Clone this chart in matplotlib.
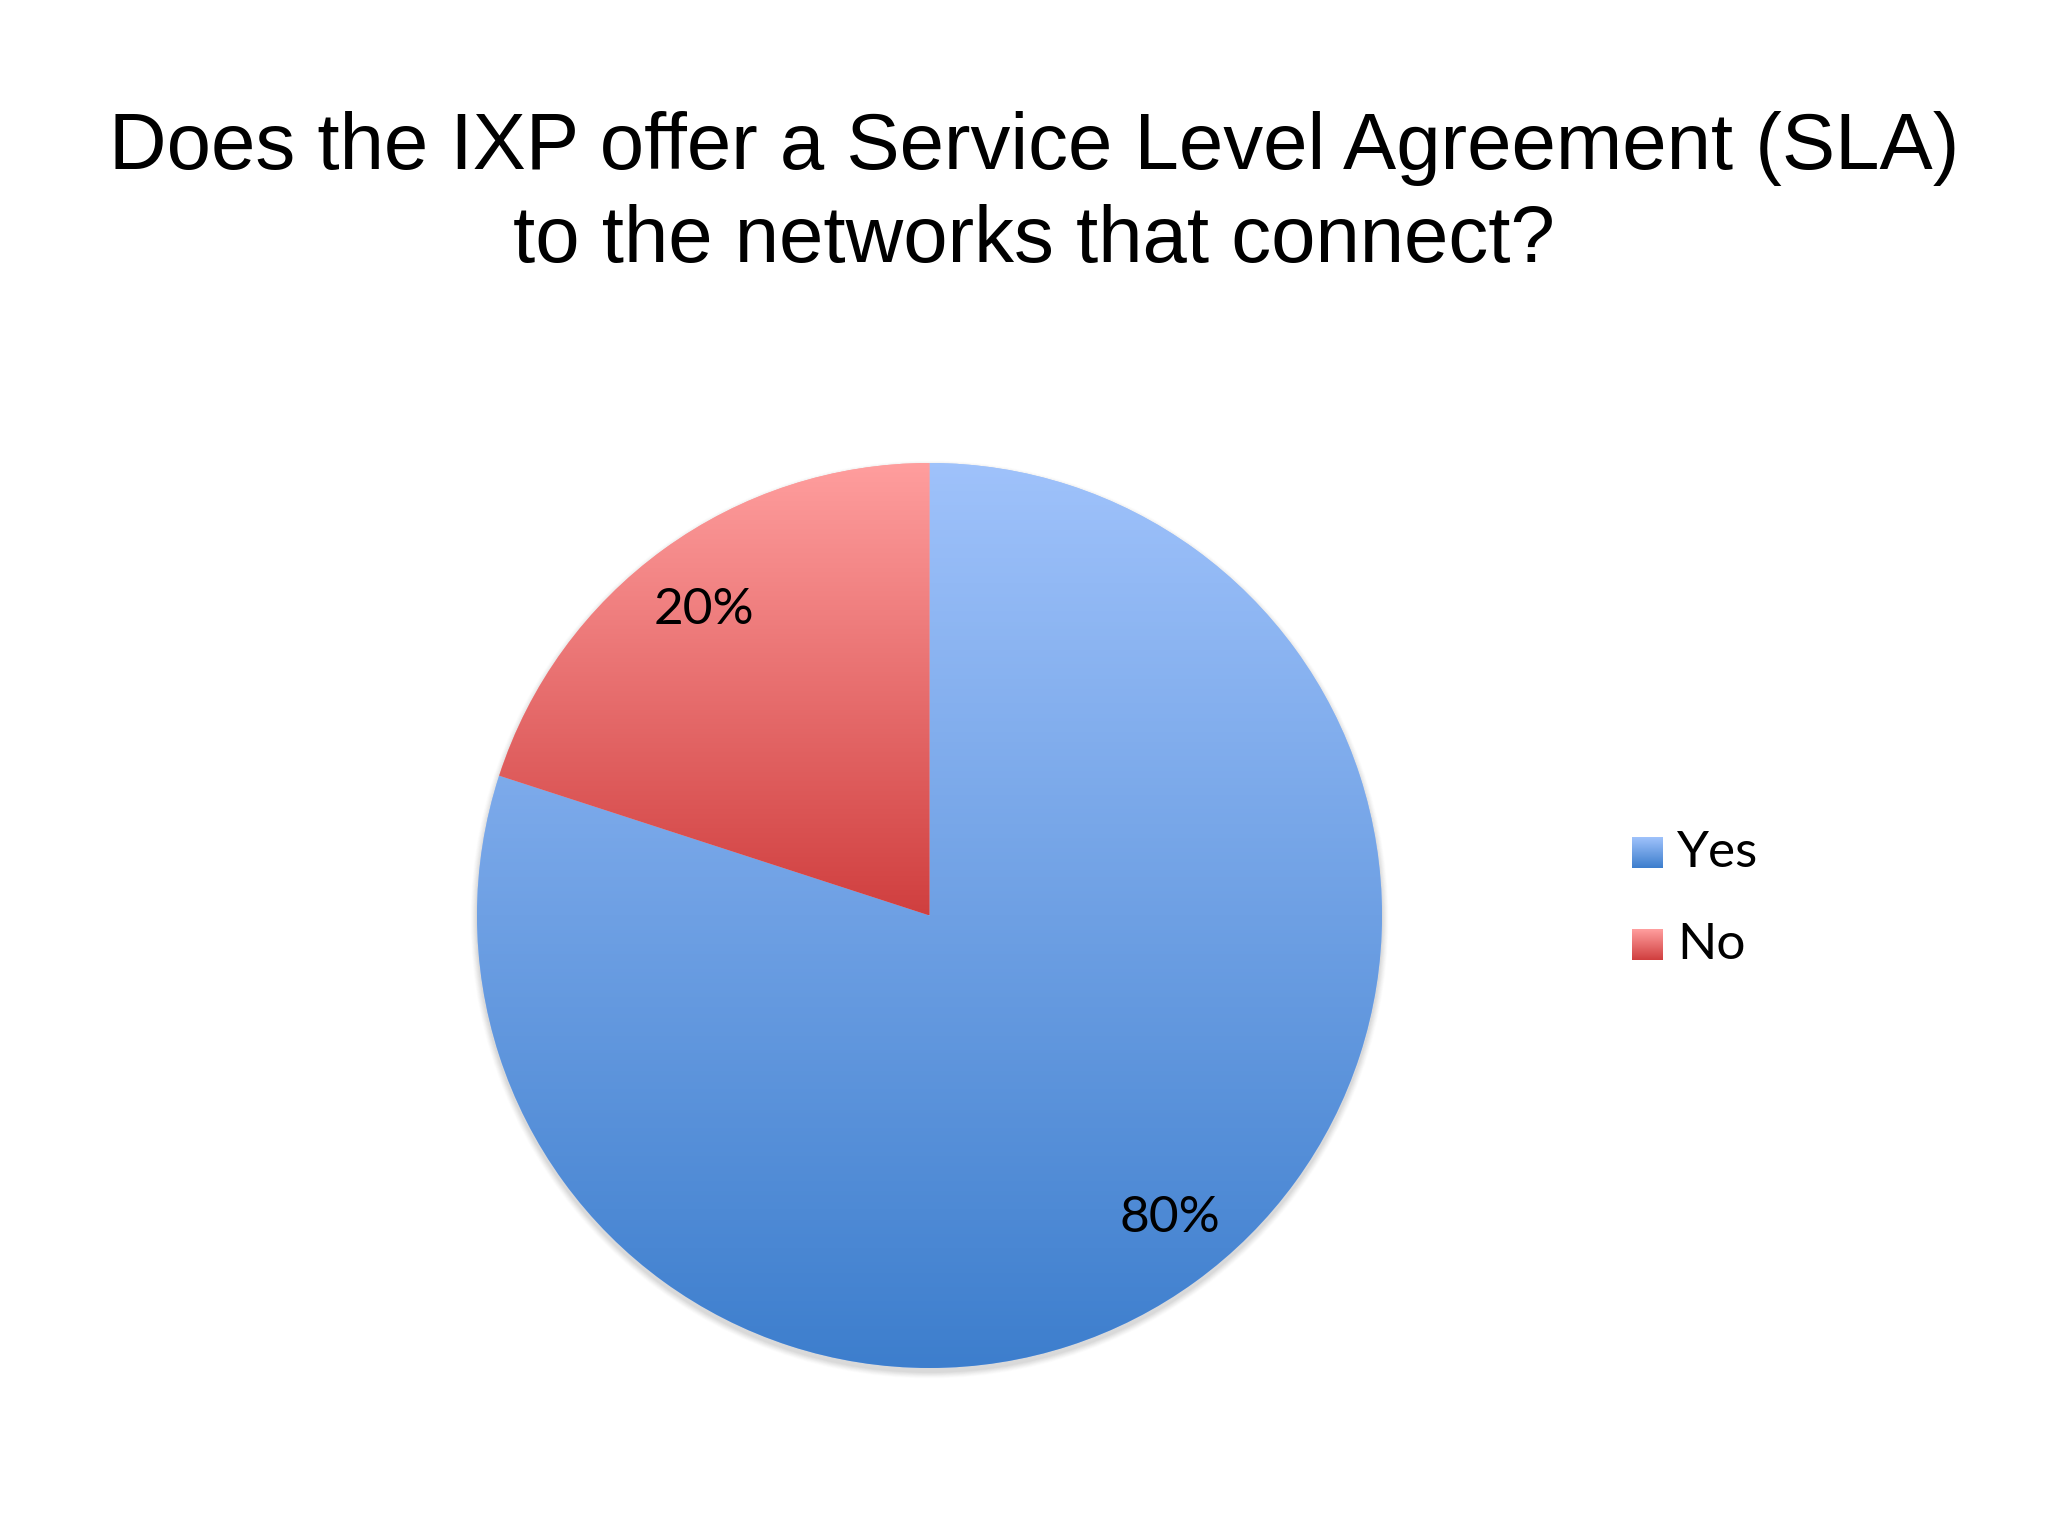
import matplotlib.pyplot as plt
import numpy as np
from matplotlib.colors import LinearSegmentedColormap
from matplotlib.patches import Circle

# Data
labels = ["Yes", "No"]
shares = [80, 20]

# gradient end colours (top, bottom) for each slice
top_colors = ["#9fc2fb", "#ff9e9e"]
bottom_colors = ["#3d7ecd", "#d03f3f"]

W, H = 2048, 1536
fig = plt.figure(figsize=(W / 100, H / 100), dpi=100)
ax = fig.add_axes([0, 0, 1, 1])
ax.set_xlim(0, W)
ax.set_ylim(0, H)
ax.axis("off")

cx, cy, r = 929.5, H - 915.5, 452.5

# soft shadow under the pie
for k, a in zip(range(8, 0, -1), np.linspace(0.02, 0.06, 8)):
    ax.add_patch(Circle((cx, cy - 4), r + k * 0.8, color="gray", alpha=a, lw=0, zorder=1))

wedges, texts, autotexts = ax.pie(
    shares, startangle=90, counterclock=False, center=(cx, cy), radius=r,
    colors=top_colors, autopct="%1.0f%%", pctdistance=0.85,
    wedgeprops=dict(lw=0),
    textprops=dict(fontsize=37, family="Lato", color="black"),
)
ax.set_xlim(0, W)
ax.set_ylim(0, H)
ax.set_aspect("equal")

# vertical gradient fill clipped to each wedge
for w, c0, c1 in zip(wedges, top_colors, bottom_colors):
    bb = w.get_path().get_extents(w.get_transform())
    inv = ax.transData.inverted()
    (x0, y0), (x1, y1) = inv.transform([[bb.x0, bb.y0], [bb.x1, bb.y1]])
    cmap = LinearSegmentedColormap.from_list("g", [c0, c1])
    grad = np.linspace(0, 1, 256).reshape(-1, 1)
    im = ax.imshow(grad, cmap=cmap, extent=(x0, x1, y0, y1), origin="upper",
                   aspect="auto", zorder=2)
    im.set_clip_path(w)

# small nudges so the labels sit where the original placed them
nudges = [(14, 9), (1, -6)]
for t, (dx, dy) in zip(autotexts, nudges):
    x, y = t.get_position()
    t.set_position((x + dx, y + dy))
    t.set_zorder(5)

# legend with gradient squares
leg_y = [H - 853, H - 945]
for lab, c0, c1, y in zip(labels, top_colors, bottom_colors, leg_y):
    cmap = LinearSegmentedColormap.from_list("g", [c0, c1])
    grad = np.linspace(0, 1, 64).reshape(-1, 1)
    ax.imshow(grad, cmap=cmap, extent=(1632, 1663, y - 15.5, y + 15.5),
              origin="upper", aspect="auto", zorder=3)
    ax.text(1677, y, lab, fontsize=37, family="Lato", va="center", ha="left")

# Title
fig.text(0.505, 1 - 169 / H, "Does the IXP offer a Service Level Agreement (SLA)",
         fontsize=57.4, family="Liberation Sans", ha="center", va="baseline")
fig.text(0.505, 1 - 262 / H, "to the networks that connect?",
         fontsize=57.4, family="Liberation Sans", ha="center", va="baseline")

fig.savefig("out.png", dpi=100, facecolor="white")
